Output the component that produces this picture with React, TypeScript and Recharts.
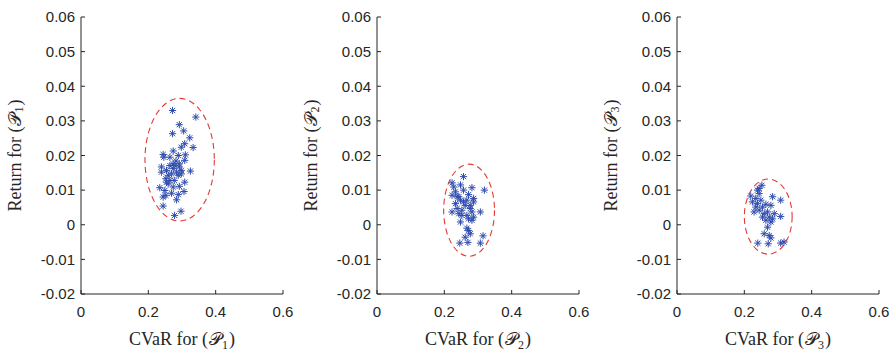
import React from 'react';
import {
  ScatterChart,
  Scatter,
  XAxis,
  YAxis,
  ReferenceArea,
} from 'recharts';

// CVaR / return pairs
const cvar1 = [
  0.272, 0.341, 0.292, 0.272, 0.305, 0.323, 0.308, 0.298, 0.333, 0.274, 0.244, 0.246, 0.289,
  0.310, 0.308, 0.282, 0.274, 0.264, 0.239, 0.254, 0.274, 0.292, 0.325, 0.284, 0.298, 0.259,
  0.289, 0.252, 0.264, 0.277, 0.308, 0.259, 0.234, 0.292, 0.249, 0.269, 0.306, 0.252, 0.244,
  0.289, 0.284, 0.244, 0.297, 0.278, 0.269, 0.279, 0.264, 0.292, 0.254, 0.274, 0.298, 0.239,
];
const ret1 = [
  0.0330, 0.0311, 0.0289, 0.0263, 0.0271, 0.0251, 0.0234, 0.0224, 0.0223, 0.0213, 0.0203, 0.0195, 0.0200,
  0.0202, 0.0186, 0.0184, 0.0176, 0.0171, 0.0167, 0.0157, 0.0162, 0.0167, 0.0155, 0.0152, 0.0147, 0.0143,
  0.0143, 0.0133, 0.0128, 0.0128, 0.0123, 0.0118, 0.0107, 0.0111, 0.0099, 0.0091, 0.0096, 0.0085, 0.0080,
  0.0087, 0.0072, 0.0054, 0.0039, 0.0027, 0.0147, 0.0171, 0.0195, 0.0176, 0.0123, 0.0109, 0.0157, 0.0152,
];

const cvar2 = [
  0.257, 0.223, 0.248, 0.282, 0.319, 0.233, 0.257, 0.223, 0.243, 0.272, 0.287, 0.248, 0.267, 0.233,
  0.257, 0.287, 0.238, 0.223, 0.252, 0.277, 0.282, 0.307, 0.267, 0.287, 0.272, 0.248, 0.282, 0.267,
  0.272, 0.262, 0.277, 0.315, 0.246, 0.270, 0.307, 0.238, 0.262, 0.252, 0.228, 0.277, 0.243,
];
const ret2 = [
  0.0139, 0.0121, 0.0115, 0.0107, 0.0100, 0.0095, 0.0100, 0.0085, 0.0081, 0.0087, 0.0076, 0.0071, 0.0071, 0.0061,
  0.0066, 0.0066, 0.0047, 0.0037, 0.0042, 0.0047, 0.0037, 0.0037, 0.0027, 0.0022, 0.0017, 0.0008, 0.0013, -0.0010,
  -0.0017, -0.0036, -0.0026, -0.0032, -0.0053, -0.0051, -0.0053, 0.0081, 0.0056, 0.0027, 0.0109, 0.0056, 0.0032,
];

const cvar3 = [
  0.252, 0.239, 0.219, 0.234, 0.244, 0.284, 0.308, 0.224, 0.239, 0.264, 0.279, 0.254, 0.229, 0.244,
  0.269, 0.308, 0.254, 0.274, 0.284, 0.264, 0.279, 0.269, 0.259, 0.274, 0.279, 0.240, 0.271, 0.308,
  0.318, 0.249, 0.259, 0.234, 0.289, 0.244,
];
const ret3 = [
  0.0114, 0.0100, 0.0083, 0.0076, 0.0090, 0.0081, 0.0071, 0.0066, 0.0061, 0.0059, 0.0056, 0.0051, 0.0037, 0.0042,
  0.0037, 0.0024, 0.0022, 0.0022, 0.0017, 0.0013, 0.0008, -0.0007, -0.0026, -0.0031, -0.0038, -0.0053, -0.0055, -0.0053,
  -0.0050, 0.0071, 0.0032, 0.0051, 0.0032, 0.0105,
];

// dashed ellipse bounds per panel: [cvarMin, cvarMax, retMin, retMax]
const ellipse1 = [0.19, 0.396, 0.0011, 0.0365];
const ellipse2 = [0.198, 0.349, -0.0091, 0.0175];
const ellipse3 = [0.2, 0.342, -0.0085, 0.0132];

const xTicks = [0, 0.2, 0.4, 0.6];
const yTicks = [-0.02, -0.01, 0, 0.01, 0.02, 0.03, 0.04, 0.05, 0.06];
const panelSubs = ['1', '2', '3'];

const BLUE = '#2f4cae';
const RED = '#e23b36';
const AXIS = '#262626';
const tickFont = { fontFamily: '"Liberation Sans", Arial, sans-serif', fontSize: 15, fill: AXIS };

const Asterisk = (props: any) => {
  const { cx, cy } = props;
  if (cx == null || cy == null) return <g />;
  const r = 3.6;
  const d = 2.6;
  return (
    <g stroke={BLUE} strokeWidth={1}>
      <line x1={cx - r} y1={cy} x2={cx + r} y2={cy} />
      <line x1={cx} y1={cy - r} x2={cx} y2={cy + r} />
      <line x1={cx - d} y1={cy - d} x2={cx + d} y2={cy + d} />
      <line x1={cx - d} y1={cy + d} x2={cx + d} y2={cy - d} />
    </g>
  );
};

const EllipseShape = (props: any) => {
  const { x, y, width, height } = props;
  return (
    <ellipse
      cx={x + width / 2}
      cy={y + height / 2}
      rx={width / 2}
      ry={height / 2}
      fill="none"
      stroke={RED}
      strokeWidth={1.1}
      strokeDasharray="6 4"
    />
  );
};

const Title = ({ viewBox, prefix, sub, vertical }: any) => {
  const font = { fontFamily: '"Liberation Serif", "Times New Roman", serif', fontSize: 18, fill: AXIS };
  const parts = (
    <>
      {prefix} (<tspan dx={1}>{'\u{1D4AB}'}</tspan>
      <tspan fontSize={12} dy={4}>{sub}</tspan>
      <tspan dy={-4} dx={1}>)</tspan>
    </>
  );
  if (!viewBox) return null;
  if (vertical) {
    const cx = viewBox.x + 14;
    const cy = viewBox.y + viewBox.height / 2;
    return (
      <text {...font} x={cx} y={cy} textAnchor="middle" dominantBaseline="central" transform={`rotate(-90 ${cx} ${cy})`}>
        {parts}
      </text>
    );
  }
  const cx = viewBox.x + viewBox.width / 2;
  const cy = viewBox.y + 51;
  return (
    <text {...font} x={cx} y={cy} textAnchor="middle">
      {parts}
    </text>
  );
};

const fmtY = (v: number) => (v === 0 ? '0' : v.toFixed(2));
const fmtX = (v: number) => (v === 0 ? '0' : v.toFixed(1));
const noTick = () => <g />;

const Panel = ({ xs, ys, ell, sub }: { xs: number[]; ys: number[]; ell: number[]; sub: string }) => {
  const data = xs.map((x, i) => ({ x, y: ys[i] }));
  return (
    <ScatterChart width={300} height={352} margin={{ top: 17, right: 18, bottom: 0, left: 0 }}>
      <XAxis
        type="number"
        dataKey="x"
        domain={[0, 0.6]}
        ticks={xTicks}
        allowDataOverflow
        height={58}
        stroke={AXIS}
        tickSize={-4}
        tickMargin={16}
        tick={tickFont}
        tickFormatter={fmtX}
        label={<Title prefix="CVaR for" sub={sub} />}
      />
      <XAxis
        xAxisId="top"
        orientation="top"
        type="number"
        domain={[0, 0.6]}
        ticks={xTicks}
        allowDataOverflow
        height={0}
        stroke={AXIS}
        tickSize={-4}
        tick={noTick}
      />
      <YAxis
        type="number"
        dataKey="y"
        domain={[-0.02, 0.06]}
        ticks={yTicks}
        allowDataOverflow
        width={80}
        stroke={AXIS}
        tickSize={-4}
        tickMargin={10}
        tick={tickFont}
        tickFormatter={fmtY}
        label={<Title prefix="Return for" sub={sub} vertical />}
      />
      <YAxis
        yAxisId="right"
        orientation="right"
        type="number"
        domain={[-0.02, 0.06]}
        ticks={yTicks}
        allowDataOverflow
        width={0}
        stroke={AXIS}
        tickSize={-4}
        tick={noTick}
      />
      <ReferenceArea x1={ell[0]} x2={ell[1]} y1={ell[2]} y2={ell[3]} shape={EllipseShape} />
      <Scatter data={data} shape={Asterisk} isAnimationActive={false} />
    </ScatterChart>
  );
};

const panelLefts = [1, 297, 597];

export default function App() {
  const panels = [
    { xs: cvar1, ys: ret1, ell: ellipse1 },
    { xs: cvar2, ys: ret2, ell: ellipse2 },
    { xs: cvar3, ys: ret3, ell: ellipse3 },
  ];
  return (
    <div style={{ position: 'absolute', left: 0, top: 0, width: 893, height: 352, background: '#fff' }}>
      {panels.map((p, i) => (
        <div key={i} style={{ position: 'absolute', left: panelLefts[i], top: 0 }}>
          <Panel xs={p.xs} ys={p.ys} ell={p.ell} sub={panelSubs[i]} />
        </div>
      ))}
    </div>
  );
}
